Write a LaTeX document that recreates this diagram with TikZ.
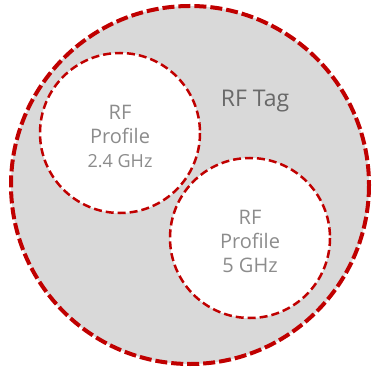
\documentclass[tikz,border=0pt]{standalone}
\usepackage{fontspec}
\setmainfont{Open Sans}
\usepackage{tikz}
\tikzset{
  tagline/.style={draw=tagred, line width=4pt, dash pattern=on 12pt off 4pt},
  profline/.style={draw=tagred, line width=2.5pt, dash pattern=on 8pt off 4pt},
  proftext/.style={text=proftxt, align=center, font=\fontsize{20}{24}\selectfont}
}
\definecolor{tagred}{RGB}{192,0,0}
\definecolor{tagfill}{RGB}{217,217,217}
\definecolor{proftxt}{RGB}{140,140,140}
\definecolor{tagtxt}{RGB}{105,105,105}

\begin{document}
\begin{tikzpicture}[x=1pt,y=-1pt]
  \useasboundingbox (0,0) rectangle (374,371);
  \def\R{179}
  \def\r{80}
  \coordinate (O) at (190,185);
  \coordinate (P1) at (120,133);
  \coordinate (P2) at (250,238);

  \fill[tagfill] (O) circle (\R);
  \draw[tagline] (O) circle (\R);

  \fill[white] (P1) circle (\r);
  \draw[profline] (P1) circle (\r);
  \fill[white] (P2) circle (\r);
  \draw[profline] (P2) circle (\r);

  \node[text=tagtxt, font=\fontsize{23}{24}\selectfont] (tag) at (255,101) {RF Tag};
  \node[proftext] (p1) at (120,136) {RF\\Profile\\{\fontsize{18}{24}\selectfont 2.4 GHz}};
  \node[proftext] (p2) at (250,241) {RF\\Profile\\5 GHz};
\end{tikzpicture}
\end{document}
